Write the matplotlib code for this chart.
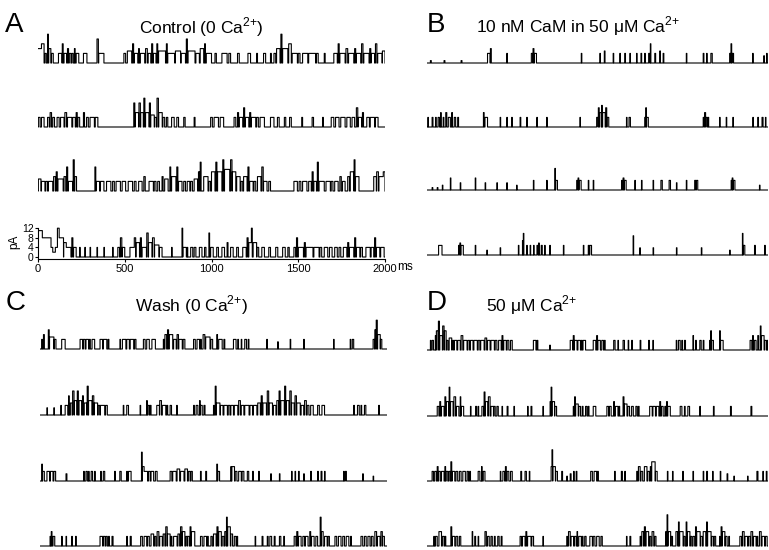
import numpy as np
import matplotlib
matplotlib.use('Agg')
import matplotlib.pyplot as plt

plt.rcParams['font.family'] = ['Liberation Sans', 'DejaVu Sans']
plt.rcParams['mathtext.fontset'] = 'custom'
plt.rcParams['mathtext.rm'] = 'Liberation Sans'

# openings: (start ms, duration ms, current pA)
ctrl_1 = [(0, 20, 6), (20, 15, 8), (40, 8, 4), (55, 5, 12), (62, 12, 6), (78, 10, 4),
          (118, 20, 4), (140, 5, 8), (150, 15, 4), (170, 6, 6), (180, 10, 4), (195, 8, 4), (210, 4, 6), (220, 15, 4),
          (262, 20, 4), (340, 8, 10), (350, 30, 4),
          (495, 10, 4), (515, 25, 5), (545, 6, 8), (555, 20, 4), (580, 4, 6), (590, 25, 4), (620, 10, 6), (635, 15, 4),
          (655, 6, 8), (665, 15, 4), (685, 5, 8), (695, 40, 5), (740, 5, 8), (748, 40, 4), (792, 30, 5), (825, 25, 4),
          (855, 6, 10), (865, 40, 5), (910, 20, 4), (935, 20, 6), (960, 5, 8), (970, 30, 4),
          (1020, 8, 4), (1060, 30, 4), (1100, 10, 4), (1150, 10, 4), (1210, 15, 4), (1260, 5, 4), (1300, 12, 4), (1340, 5, 4),
          (1360, 10, 4), (1375, 20, 6), (1400, 6, 12), (1410, 30, 6), (1445, 15, 8), (1465, 30, 4), (1500, 10, 4),
          (1525, 30, 4), (1560, 40, 4), (1605, 10, 4), (1650, 5, 4),
          (1705, 20, 4), (1730, 6, 8), (1740, 30, 4), (1775, 10, 6), (1790, 30, 4), (1825, 6, 6), (1835, 25, 4),
          (1865, 8, 8), (1878, 30, 4), (1912, 6, 6), (1920, 20, 4), (1945, 8, 8), (1958, 25, 4), (1985, 15, 5)]
ctrl_2 = [(2, 10, 4), (20, 15, 4), (55, 10, 4), (70, 8, 6), (85, 10, 4),
          (110, 12, 4), (130, 20, 4), (155, 10, 6), (170, 25, 4), (200, 15, 4), (220, 6, 6), (230, 10, 4),
          (262, 6, 6), (280, 10, 4), (300, 25, 4), (330, 15, 4),
          (552, 6, 10), (560, 20, 6), (582, 8, 10), (592, 15, 6), (610, 6, 12), (620, 20, 6), (642, 6, 10), (650, 20, 5),
          (672, 10, 4), (686, 8, 12), (696, 20, 6), (720, 10, 4), (740, 8, 4), (770, 15, 4), (800, 10, 4), (840, 8, 4),
          (900, 5, 4), (995, 10, 4), (1015, 25, 4), (1050, 20, 4),
          (1130, 10, 4), (1150, 6, 6), (1160, 20, 4), (1185, 6, 8), (1195, 20, 4), (1220, 6, 6), (1230, 25, 4),
          (1260, 10, 4), (1280, 25, 4), (1340, 20, 4), (1380, 10, 4), (1420, 8, 4), (1450, 10, 4),
          (1520, 5, 4), (1580, 8, 4), (1640, 5, 4),
          (1690, 15, 4), (1715, 20, 4), (1745, 25, 4), (1780, 20, 4), (1810, 15, 4), (1835, 8, 8), (1845, 20, 4),
          (1870, 6, 6), (1895, 15, 4), (1915, 25, 4), (1945, 15, 4)]
ctrl_3 = [(2, 15, 5), (20, 20, 4), (45, 10, 4), (60, 25, 4), (90, 10, 6), (105, 6, 8), (115, 30, 5), (150, 10, 6),
          (165, 6, 10), (175, 25, 4), (203, 6, 13), (212, 10, 6),
          (328, 5, 10), (335, 20, 4), (360, 20, 4), (395, 25, 4), (430, 10, 4), (450, 25, 4), (485, 20, 4), (520, 25, 4),
          (555, 10, 4), (580, 20, 4), (610, 8, 6), (640, 25, 4), (670, 10, 4),
          (690, 10, 4), (715, 6, 6), (730, 20, 5), (760, 5, 10), (770, 25, 6), (800, 6, 10), (810, 20, 4), (840, 10, 4),
          (860, 15, 4), (880, 10, 4), (900, 20, 5), (925, 6, 8), (935, 5, 12),
          (955, 25, 6), (985, 10, 4), (1000, 20, 8), (1025, 6, 12), (1035, 25, 8), (1065, 6, 13), (1075, 30, 9),
          (1110, 8, 13), (1120, 20, 8), (1145, 20, 6), (1170, 10, 4), (1185, 20, 6), (1210, 6, 10), (1220, 20, 4),
          (1245, 10, 4), (1265, 20, 6), (1290, 8, 10), (1300, 20, 4), (1330, 10, 4),
          (1475, 20, 4), (1505, 10, 4), (1525, 25, 4), (1560, 15, 4), (1580, 6, 8), (1590, 15, 4), (1610, 6, 12),
          (1620, 30, 4), (1660, 25, 4), (1690, 10, 4), (1710, 20, 4), (1740, 8, 6), (1755, 15, 4),
          (1785, 10, 6), (1800, 20, 8), (1822, 5, 13), (1830, 20, 6),
          (1935, 15, 6), (1952, 10, 8), (1965, 25, 6), (1990, 10, 8)]
ctrl_4 = [(0, 25, 11), (25, 20, 8), (45, 30, 8), (75, 10, 4), (85, 15, 2), (100, 12, 4), (112, 10, 12), (122, 25, 8),
          (148, 15, 6), (163, 8, 4), (170, 20, 4), (195, 6, 8), (205, 15, 4),
          (240, 3, 4), (270, 3, 4), (300, 3, 4), (340, 3, 4), (380, 3, 4), (430, 3, 4),
          (460, 10, 4), (475, 8, 8), (485, 15, 4),
          (530, 25, 4), (555, 8, 8), (565, 20, 6), (590, 6, 8), (600, 25, 4), (627, 8, 10), (637, 20, 6), (660, 10, 8),
          (672, 25, 5), (700, 15, 4), (770, 3, 4), (830, 4, 12), (835, 20, 4),
          (860, 3, 4), (880, 12, 4), (900, 10, 4), (930, 15, 4), (960, 8, 4), (985, 4, 10), (995, 15, 4), (1030, 10, 4),
          (1060, 15, 4), (1090, 5, 6), (1110, 15, 4), (1145, 10, 4), (1180, 20, 4), (1205, 6, 8), (1215, 15, 6),
          (1230, 5, 12), (1240, 20, 6), (1262, 10, 4),
          (1290, 15, 4), (1330, 10, 4), (1370, 12, 4), (1410, 15, 4), (1440, 8, 4),
          (1475, 10, 4), (1490, 6, 8), (1500, 30, 4), (1535, 6, 6), (1545, 40, 4), (1590, 30, 4), (1625, 10, 4),
          (1650, 20, 4), (1680, 15, 4),
          (1710, 15, 4), (1735, 10, 4), (1760, 20, 4), (1785, 6, 6), (1795, 25, 4), (1825, 6, 8), (1835, 20, 4),
          (1860, 10, 4), (1890, 25, 4), (1920, 15, 4), (1940, 6, 8), (1950, 20, 4), (1975, 20, 4)]

cam_1 = [(20, 5, 1), (100, 5, 1), (200, 5, 1), (355, 15, 4), (372, 5, 6), (468, 3, 4),
         (612, 8, 4), (622, 5, 6), (630, 12, 4), (905, 3, 4),
         (1014, 3, 4), (1040, 4, 5), (1092, 3, 4), (1131, 3, 4), (1160, 4, 4), (1190, 3, 4),
         (1229, 3, 4), (1255, 4, 4), (1277, 3, 4), (1300, 6, 4), (1310, 3, 8), (1336, 5, 4), (1365, 4, 5), (1385, 4, 4),
         (1521, 3, 4), (1620, 4, 4), (1640, 3, 4), (1665, 8, 4), (1775, 6, 4), (1783, 4, 8), (1790, 8, 4),
         (1910, 3, 4), (1975, 4, 3), (1992, 3, 4)]
cam_2 = [(5, 3, 4), (30, 5, 4), (50, 4, 4), (65, 8, 4), (80, 3, 6), (95, 4, 4), (110, 6, 6), (125, 12, 4), (145, 4, 6),
         (160, 8, 4), (180, 5, 4), (331, 4, 6), (340, 15, 4),
         (429, 3, 4), (468, 3, 4), (497, 3, 4), (546, 4, 4), (585, 3, 4), (644, 3, 4), (702, 3, 4), (897, 3, 4),
         (995, 8, 4), (1005, 5, 8), (1012, 10, 6), (1024, 4, 9), (1030, 15, 6), (1048, 6, 8), (1056, 10, 4),
         (1170, 3, 4), (1185, 8, 4), (1277, 5, 4), (1283, 4, 8), (1288, 10, 4),
         (1620, 6, 4), (1628, 6, 6), (1636, 8, 4), (1648, 4, 4), (1716, 3, 4), (1755, 3, 4), (1794, 3, 4),
         (1911, 3, 4), (1940, 4, 4), (1965, 6, 4), (1985, 3, 4)]
cam_3 = [(30, 4, 1), (60, 4, 1), (90, 3, 2), (137, 3, 5), (195, 3, 3), (283, 3, 5), (341, 3, 3), (410, 3, 3),
         (468, 3, 3), (526, 2, 2), (624, 3, 4), (702, 3, 4), (750, 3, 9), (755, 10, 4),
         (878, 6, 4), (886, 4, 5), (892, 12, 4), (946, 3, 4), (975, 3, 4),
         (1141, 6, 4), (1150, 5, 5), (1158, 10, 4), (1219, 3, 4), (1258, 3, 4), (1326, 3, 4), (1372, 8, 4),
         (1420, 8, 4), (1463, 3, 3), (1521, 3, 4), (1570, 6, 4), (1580, 8, 4),
         (1784, 5, 4), (1790, 4, 5), (1796, 10, 4), (1950, 3, 2)]
cam_4 = [(68, 20, 4), (185, 6, 4), (193, 4, 5), (199, 14, 4), (283, 3, 4), (351, 3, 2), (429, 3, 3),
         (536, 3, 4), (560, 3, 6), (565, 3, 9), (585, 3, 4), (605, 3, 4), (625, 3, 4), (645, 6, 4), (655, 3, 5),
         (670, 6, 4), (690, 3, 4), (720, 3, 4), (800, 3, 4), (917, 3, 4), (946, 5, 4), (955, 10, 4),
         (1209, 3, 8), (1248, 3, 3), (1326, 3, 3), (1463, 3, 3), (1609, 3, 3), (1775, 3, 2),
         (1850, 3, 9), (1856, 8, 4), (1921, 5, 4), (1980, 4, 4)]

wash_1 = [(10, 4, 4), (20, 5, 6), (48, 5, 8), (55, 25, 5), (82, 10, 4), (125, 20, 4),
          (231, 15, 4), (250, 10, 4), (265, 15, 4), (285, 5, 4), (300, 15, 4), (346, 15, 4), (365, 20, 4), (392, 5, 4),
          (461, 3, 4), (475, 20, 4), (500, 15, 4), (520, 20, 4), (545, 8, 4), (596, 10, 4), (615, 15, 4), (645, 20, 4),
          (711, 5, 4), (720, 10, 6), (735, 6, 8), (745, 20, 6), (770, 15, 4), (790, 8, 6), (800, 20, 4), (825, 10, 4),
          (885, 10, 4), (905, 15, 4), (925, 5, 4), (940, 10, 6), (955, 25, 5), (985, 10, 4),
          (1019, 4, 6), (1030, 20, 4), (1060, 5, 4), (1115, 15, 4), (1140, 4, 4), (1160, 3, 4), (1180, 10, 4),
          (1200, 4, 4), (1307, 3, 4), (1370, 3, 3), (1442, 3, 4), (1520, 3, 4), (1692, 3, 4), (1788, 3, 4),
          (1800, 8, 4), (1920, 8, 4), (1930, 6, 8), (1938, 6, 12), (1946, 15, 6), (1962, 8, 4)]
wash_2 = [(40, 3, 3), (80, 3, 3), (120, 3, 4), (145, 10, 4),
          (155, 5, 4), (165, 3, 8), (175, 10, 5), (188, 8, 10), (198, 15, 6), (215, 6, 10), (225, 15, 6), (245, 5, 8),
          (255, 15, 5), (272, 6, 12), (280, 20, 6), (302, 8, 8), (312, 20, 5), (335, 10, 4), (348, 25, 4), (378, 10, 4),
          (480, 3, 4), (500, 10, 4), (577, 3, 4), (615, 3, 6), (622, 8, 4), (635, 5, 4),
          (673, 15, 4), (690, 10, 6), (705, 20, 4), (730, 6, 4), (750, 8, 4), (788, 3, 4),
          (885, 5, 4), (900, 10, 4), (920, 3, 6), (925, 10, 4), (945, 6, 4), (1000, 4, 4), (1010, 5, 12), (1017, 20, 5),
          (1040, 15, 4), (1060, 20, 4), (1085, 10, 4), (1100, 15, 4), (1120, 20, 4), (1145, 10, 6), (1160, 15, 4),
          (1180, 25, 4), (1210, 15, 4), (1230, 20, 4), (1255, 15, 5), (1275, 6, 8), (1285, 20, 5), (1310, 8, 10),
          (1320, 20, 5), (1345, 15, 4), (1365, 10, 6), (1378, 6, 10), (1388, 20, 6), (1410, 6, 12), (1420, 15, 6),
          (1440, 8, 10), (1450, 15, 5), (1470, 8, 8), (1480, 20, 5), (1505, 15, 4), (1525, 10, 6), (1540, 10, 4),
          (1560, 15, 4), (1600, 10, 4), (1625, 15, 4), (1808, 4, 4), (1830, 10, 4), (1850, 4, 4), (1870, 8, 4),
          (1952, 4, 4)]
wash_3 = [(10, 4, 7), (15, 10, 4), (40, 15, 4), (60, 15, 4), (80, 10, 4), (150, 5, 3),
          (252, 3, 4), (265, 8, 4), (280, 3, 4), (295, 8, 4), (315, 3, 4), (350, 3, 4), (365, 8, 4), (430, 4, 4),
          (460, 8, 4), (500, 3, 4), (510, 15, 4), (585, 4, 12), (590, 10, 6), (600, 20, 4), (625, 10, 4), (640, 15, 4),
          (665, 10, 4), (750, 10, 4), (765, 20, 4), (790, 15, 5), (810, 20, 4), (835, 15, 5), (855, 10, 4), (870, 8, 4),
          (925, 4, 4), (955, 5, 4), (1019, 4, 7), (1025, 10, 4),
          (1100, 3, 6), (1106, 15, 6), (1125, 10, 4), (1145, 15, 4), (1165, 10, 4), (1195, 8, 4), (1225, 5, 4),
          (1260, 4, 4), (1330, 3, 3), (1380, 3, 3), (1450, 3, 4), (1470, 3, 4), (1490, 4, 4), (1520, 3, 3),
          (1560, 4, 4), (1600, 4, 4), (1620, 5, 4), (1640, 3, 4), (1750, 3, 4), (1760, 6, 4), (1860, 3, 3),
          (1920, 3, 2)]
wash_4 = [(58, 3, 4), (65, 4, 6), (75, 10, 4), (125, 3, 4), (150, 3, 4), (183, 3, 4), (205, 4, 4),
          (346, 15, 4), (365, 10, 4), (380, 8, 4), (395, 5, 4), (415, 6, 4), (500, 3, 4), (520, 6, 4),
          (580, 10, 4), (600, 15, 4), (620, 10, 4), (640, 15, 5), (660, 8, 4), (675, 10, 6), (690, 15, 4), (710, 10, 5),
          (725, 8, 8), (735, 15, 5), (755, 5, 4), (770, 20, 4), (795, 10, 5), (810, 8, 8), (820, 15, 6), (840, 8, 4),
          (850, 10, 4), (865, 5, 8), (872, 20, 6), (925, 10, 4), (945, 15, 4), (965, 5, 4), (985, 8, 4),
          (1000, 15, 5), (1020, 6, 8), (1030, 15, 6), (1050, 10, 4), (1065, 8, 6), (1075, 4, 12), (1082, 15, 8),
          (1100, 10, 5), (1120, 10, 4), (1135, 4, 4), (1240, 3, 4), (1280, 5, 4),
          (1310, 5, 4), (1325, 10, 4), (1350, 5, 4), (1380, 8, 4), (1405, 4, 4),
          (1465, 10, 4), (1480, 6, 6), (1490, 15, 4), (1515, 10, 4), (1530, 15, 4), (1555, 5, 6), (1565, 15, 4),
          (1590, 10, 4), (1615, 5, 12), (1622, 10, 6), (1640, 15, 4), (1660, 8, 4),
          (1700, 10, 4), (1720, 15, 4), (1745, 10, 4), (1765, 15, 4), (1790, 5, 4),
          (1850, 10, 4), (1870, 10, 4), (1890, 12, 4), (1910, 10, 4), (1930, 10, 6), (1945, 15, 4), (1965, 8, 6),
          (1975, 10, 4)]

ca_1 = [(20, 3, 4), (30, 8, 4), (49, 3, 6), (55, 10, 8), (67, 6, 12), (75, 15, 6), (92, 8, 10), (102, 10, 8),
        (115, 8, 4), (130, 15, 5), (148, 8, 4),
        (160, 15, 4), (180, 15, 4), (200, 10, 6), (215, 20, 4), (240, 10, 4), (255, 15, 4), (275, 20, 4), (300, 10, 4),
        (315, 20, 4), (340, 10, 5), (355, 15, 4), (375, 20, 4), (400, 10, 4), (420, 15, 4), (440, 5, 6), (450, 15, 4),
        (470, 10, 4), (490, 10, 4), (624, 15, 4), (645, 5, 4), (720, 3, 2),
        (840, 15, 4), (858, 5, 6), (865, 15, 4), (885, 15, 4), (905, 5, 4), (915, 15, 4),
        (975, 15, 4), (995, 5, 6), (1002, 15, 4), (1025, 10, 4), (1040, 5, 4),
        (1095, 8, 4), (1120, 3, 4), (1150, 8, 4), (1180, 3, 4), (1200, 5, 4), (1250, 4, 4), (1300, 4, 4), (1325, 3, 4),
        (1462, 3, 4), (1475, 10, 4), (1495, 3, 4), (1510, 6, 4), (1560, 3, 6), (1575, 5, 4), (1600, 8, 4),
        (1620, 4, 4), (1658, 4, 4), (1664, 4, 8), (1670, 10, 4), (1716, 4, 8), (1722, 15, 4),
        (1895, 10, 4), (1910, 4, 6), (1920, 10, 4), (1940, 5, 6), (1955, 4, 10), (1962, 15, 6), (1980, 10, 4),
        (1995, 5, 4)]
ca_2 = [(60, 10, 4), (75, 5, 6), (85, 15, 4), (105, 5, 8), (112, 15, 6), (130, 4, 12), (138, 15, 6), (158, 10, 8),
        (172, 15, 4), (195, 3, 8), (200, 15, 4), (255, 3, 4), (285, 6, 4), (300, 3, 4),
        (322, 10, 4), (335, 5, 10), (342, 15, 6), (360, 10, 8), (375, 15, 4), (392, 8, 4),
        (410, 8, 4), (440, 3, 4), (470, 5, 4), (510, 3, 4), (590, 3, 4), (610, 5, 4), (680, 3, 4),
        (722, 5, 6), (728, 4, 12), (733, 15, 6), (750, 10, 4),
        (858, 5, 4), (866, 4, 8), (872, 15, 5), (890, 10, 4), (910, 5, 4), (930, 8, 4), (945, 5, 4), (975, 15, 4),
        (1055, 10, 4), (1070, 10, 4), (1095, 4, 6), (1105, 15, 4), (1125, 5, 4),
        (1150, 5, 8), (1158, 15, 5), (1178, 10, 4), (1200, 10, 4), (1225, 8, 4), (1240, 4, 4),
        (1306, 15, 4), (1325, 15, 4), (1345, 15, 4), (1365, 5, 6), (1375, 10, 4), (1395, 5, 4), (1405, 5, 6),
        (1412, 15, 4), (1485, 10, 4), (1510, 4, 4), (1530, 10, 4), (1600, 3, 4), (1680, 4, 4), (1780, 5, 4),
        (1900, 5, 4)]
ca_3 = [(30, 8, 4), (45, 10, 4), (60, 5, 6), (68, 10, 4), (85, 15, 4), (105, 4, 6), (112, 10, 4), (128, 8, 4),
        (140, 5, 8), (148, 15, 4), (170, 10, 4), (190, 10, 4), (210, 15, 4), (235, 8, 4), (250, 5, 4),
        (300, 10, 4), (320, 3, 6), (330, 10, 4), (430, 3, 4), (445, 10, 4), (460, 5, 6), (470, 10, 4), (490, 10, 4),
        (550, 5, 4), (575, 8, 4), (600, 3, 4), (728, 5, 6), (733, 4, 13), (738, 15, 6), (755, 10, 4),
        (790, 5, 4), (820, 3, 2), (840, 5, 3), (860, 3, 4), (875, 4, 4), (960, 10, 4), (980, 15, 4), (1000, 5, 4),
        (1100, 4, 4), (1140, 6, 4), (1160, 3, 4),
        (1230, 5, 4), (1240, 10, 6), (1255, 10, 4), (1275, 15, 6), (1295, 10, 4), (1310, 6, 6), (1318, 20, 8),
        (1340, 10, 4), (1410, 3, 4), (1440, 3, 4), (1500, 3, 4), (1560, 3, 4), (1620, 3, 4), (1640, 5, 4),
        (1675, 3, 4), (1720, 3, 4), (1760, 4, 3), (1800, 3, 2), (1880, 3, 2), (1935, 6, 4), (1970, 3, 4),
        (1990, 4, 4)]
ca_4 = [(40, 3, 4), (50, 10, 4), (70, 15, 6), (90, 10, 4), (105, 5, 4), (140, 5, 8), (148, 15, 4), (170, 10, 4),
        (190, 8, 4), (265, 3, 6), (280, 5, 4), (300, 3, 4),
        (340, 8, 6), (355, 10, 4), (375, 8, 4), (395, 5, 4), (415, 8, 4), (435, 5, 4),
        (546, 8, 4), (560, 15, 4), (580, 5, 6), (590, 20, 4), (615, 10, 4), (680, 3, 4),
        (820, 4, 4), (830, 10, 6), (845, 15, 4), (865, 10, 4), (880, 3, 6), (890, 15, 4), (910, 5, 4), (925, 8, 4),
        (955, 15, 4), (975, 10, 4), (995, 15, 4), (1020, 8, 4), (1170, 3, 4), (1190, 5, 4),
        (1250, 5, 4), (1260, 10, 6), (1275, 6, 8), (1285, 15, 6), (1305, 8, 4), (1320, 10, 6), (1335, 8, 4),
        (1400, 4, 6), (1408, 4, 13), (1414, 15, 6), (1432, 8, 4),
        (1460, 10, 6), (1475, 4, 10), (1482, 20, 6), (1505, 8, 4), (1520, 4, 10), (1527, 15, 6), (1545, 8, 4),
        (1560, 10, 4), (1575, 5, 8), (1582, 20, 6), (1605, 10, 4), (1620, 15, 6), (1640, 4, 10), (1646, 20, 6),
        (1670, 10, 4), (1685, 8, 4), (1716, 3, 4), (1725, 5, 8), (1732, 15, 6), (1750, 10, 4), (1770, 4, 4),
        (1835, 10, 4), (1850, 10, 6), (1865, 15, 4), (1885, 10, 4), (1900, 10, 6), (1915, 15, 4), (1935, 5, 4),
        (1950, 10, 6), (1965, 15, 4), (1985, 10, 4)]

W, H = 769, 550
PX_PER_PA = 2.4
YLO, YHI = -1, 14

fig = plt.figure(figsize=(W / 100, H / 100), dpi=100)


def build(events, n=2000):
    t = np.arange(n + 1)
    y = np.zeros(n + 1)
    for start, dur, amp in events:
        sel = (t >= start) & (t < start + dur)
        y[sel] = np.maximum(y[sel], amp)
    return t, y


def add_trace(x0, x1, base, events):
    # base = pixel row of the closed level, counted from the top
    h = (YHI - YLO) * PX_PER_PA
    bottom = H - base + YLO * PX_PER_PA
    ax = fig.add_axes([x0 / W, bottom / H, (x1 - x0) / W, h / H])
    t, y = build(events)
    ax.plot(t, y, color='black', lw=0.8, drawstyle='steps-post')
    ax.set_xlim(0, 2000)
    ax.set_ylim(YLO, YHI)
    ax.axis('off')
    return ax


for base, ev in zip([63, 127, 191], [ctrl_1, ctrl_2, ctrl_3]):
    add_trace(38, 385, base, ev)
ax = add_trace(38, 385, 257, ctrl_4)
ax.axis('on')
for s in ['top', 'right']:
    ax.spines[s].set_visible(False)
ax.spines['left'].set_bounds(YLO, 12)
ax.spines['left'].set_linewidth(0.8)
ax.spines['bottom'].set_linewidth(0.8)
ax.set_xticks([0, 500, 1000, 1500, 2000])
ax.set_yticks([0, 4, 8, 12])
ax.tick_params(axis='x', labelsize=8, length=2, pad=1, width=0.8)
ax.tick_params(axis='y', labelsize=7.5, length=2, pad=1, width=0.8)
ax.set_ylabel('pA', fontsize=8.5, labelpad=1)
ax.text(1.035, -0.21, 'ms', transform=ax.transAxes, fontsize=8.5, va='center', ha='left')

for base, ev in zip([63, 127, 190, 255], [cam_1, cam_2, cam_3, cam_4]):
    add_trace(427, 768, base, ev)
for base, ev in zip([349, 415, 481, 546], [wash_1, wash_2, wash_3, wash_4]):
    add_trace(40, 387, base, ev)
for base, ev in zip([350, 416, 481, 546], [ca_1, ca_2, ca_3, ca_4]):
    add_trace(427, 768, base, ev)

letters = [('A', 5, 25), ('B', 427, 25), ('C', 6, 303), ('D', 427, 303)]
for s, x, y in letters:
    fig.text(x / W, 1 - y / H, s, fontsize=20, va='center', ha='left')

titles = [(r'Control (0 $\mathrm{Ca}^{2{+}}$)', 201, 27),
          ('10 nM CaM in 50 \u03bcM ' + r'$\mathrm{Ca}^{2{+}}$', 578, 26),
          (r'Wash (0 $\mathrm{Ca}^{2{+}}$)', 192, 305),
          ('50 \u03bcM ' + r'$\mathrm{Ca}^{2{+}}$', 532, 305)]
for s, x, y in titles:
    fig.text(x / W, 1 - y / H, s, fontsize=12.5, va='center', ha='center')

fig.savefig('out.png', dpi=100)
